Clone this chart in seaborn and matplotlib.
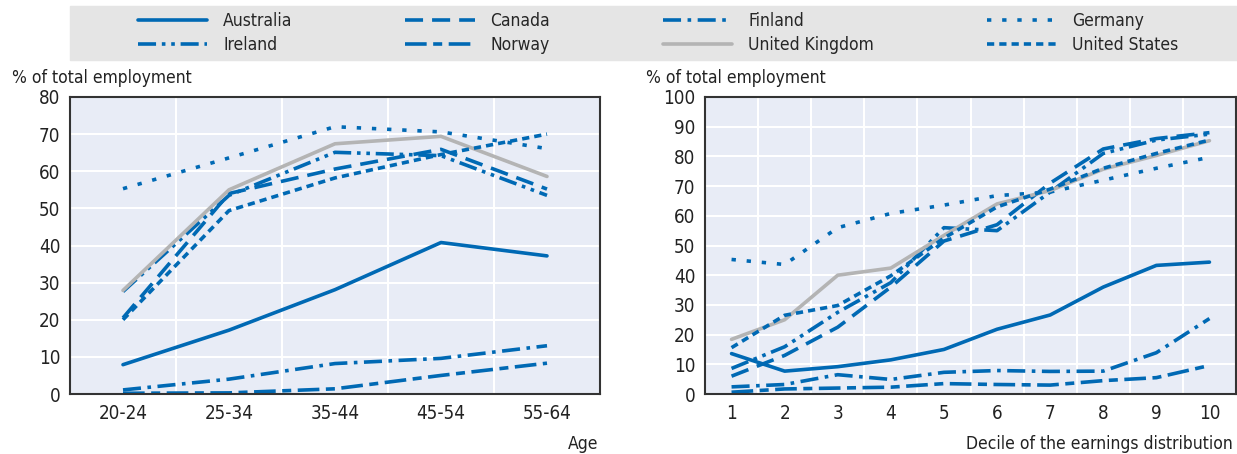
import numpy as np
import pandas as pd
import matplotlib
matplotlib.use("Agg")
import matplotlib.pyplot as plt
import seaborn as sns
from matplotlib.patches import Rectangle

countries = ["Australia", "Canada", "Finland", "Germany",
             "Ireland", "Norway", "United Kingdom", "United States"]

age_groups = ["20-24", "25-34", "35-44", "45-54", "55-64"]
by_age = {
    "Australia":      [7.9, 17.2, 28.1, 40.8, 37.2],
    "Canada":         [20.5, 54.0, 60.6, 65.9, 55.2],
    "Finland":        [1.1, 4.0, 8.2, 9.6, 13.0],
    "Germany":        [55.3, 63.6, 72.0, 70.6, 66.1],
    "Ireland":        [27.6, 53.5, 65.1, 64.2, 53.5],
    "Norway":         [0.2, 0.3, 1.4, 5.0, 8.3],
    "United Kingdom": [27.9, 55.0, 67.4, 69.4, 58.6],
    "United States":  [20.0, 49.4, 58.2, 64.5, 70.0],
}

deciles = [1, 2, 3, 4, 5, 6, 7, 8, 9, 10]
by_decile = {
    "Australia":      [13.6, 7.7, 9.2, 11.5, 15.0, 21.8, 26.6, 36.0, 43.3, 44.4],
    "Canada":         [6.0, 13.0, 22.5, 36.0, 51.5, 57.0, 71.0, 82.5, 86.0, 88.0],
    "Finland":        [2.4, 3.2, 6.5, 4.9, 7.3, 7.9, 7.6, 7.7, 13.9, 25.4],
    "Germany":        [45.3, 43.6, 56.0, 60.8, 63.6, 66.8, 68.0, 72.0, 76.0, 79.7],
    "Ireland":        [8.6, 15.9, 27.5, 37.5, 56.0, 55.0, 68.0, 81.0, 85.5, 87.5],
    "Norway":         [0.6, 1.7, 2.0, 2.3, 3.5, 3.2, 3.0, 4.5, 5.5, 9.6],
    "United Kingdom": [18.4, 25.0, 40.0, 42.4, 53.4, 64.0, 68.5, 75.7, 80.3, 85.3],
    "United States":  [15.6, 26.5, 29.8, 39.8, 52.5, 63.0, 69.0, 76.0, 81.0, 85.5],
}

blue = "#0069b4"
grey = "#b4b4b4"
colors = {c: blue for c in countries}
colors["United Kingdom"] = grey
styles = {
    "Australia": "-",
    "Canada": (0, (5, 2.5)),
    "Finland": (0, (5, 1.8, 1, 1.8)),
    "Germany": (0, (1.2, 3.0)),
    "Ireland": (0, (5, 1.6, 1, 1.6, 1, 1.6)),
    "Norway": (0, (6, 1.8, 2.5, 1.8)),
    "United Kingdom": "-",
    "United States": (0, (2, 1.4)),
}

sns.set_style("white")
plt.rcParams["font.family"] = ["Liberation Sans Narrow", "DejaVu Sans"]
plt.rcParams["font.stretch"] = "condensed"

fig = plt.figure(figsize=(12.37, 4.54), dpi=100)
W, H = 1237, 454
ax1 = fig.add_axes([70 / W, 1 - 394 / H, 530 / W, 297 / H])
ax2 = fig.add_axes([705 / W, 1 - 394 / H, 531 / W, 297 / H])

age_df = pd.DataFrame(by_age)
age_df["x"] = np.arange(len(age_groups))
dec_df = pd.DataFrame(by_decile)
dec_df["x"] = deciles

for ax, df in [(ax1, age_df), (ax2, dec_df)]:
    for c in countries:
        sns.lineplot(data=df, x="x", y=c, ax=ax, color=colors[c],
                     linestyle=styles[c], linewidth=2.6, label=c, legend=False)

def style_axes(ax, xmin, xmax, ymax, xticks, xticklabels):
    ax.set_facecolor("#e8ecf6")
    ax.set_xlim(xmin, xmax)
    ax.set_ylim(0, ymax)
    ax.set_xticks(xticks)
    ax.set_xticklabels(xticklabels)
    ax.set_xticks(np.arange(xmin + 1, xmax), minor=True)
    ax.set_yticks(np.arange(0, ymax + 1, 10))
    ax.grid(True, which="major", axis="y", color="white", linewidth=1.5)
    ax.grid(True, which="minor", axis="x", color="white", linewidth=1.5)
    ax.set_axisbelow(True)
    ax.tick_params(axis="both", which="major", length=0, labelsize=13.5,
                   pad=7, colors="#222222")
    ax.tick_params(axis="x", which="minor", direction="in", length=4,
                   width=1, color="#555555")
    for s in ax.spines.values():
        s.set_visible(True)
        s.set_color("#333333")
        s.set_linewidth(1.5)
    ax.set_xlabel("")
    ax.set_ylabel("")

style_axes(ax1, -0.5, 4.5, 80, np.arange(5), age_groups)
style_axes(ax2, 0.5, 10.5, 100, deciles, [str(d) for d in deciles])

fig.text(12 / W, 1 - 78 / H, "% of total employment", fontsize=12.5,
         va="center", ha="left", color="#222222")
fig.text(646 / W, 1 - 78 / H, "% of total employment", fontsize=12.5,
         va="center", ha="left", color="#222222")
fig.text(598 / W, 1 - 444 / H, "Age", fontsize=12.5,
         va="center", ha="right", color="#222222")
fig.text(1233 / W, 1 - 444 / H, "Decile of the earnings distribution",
         fontsize=12.5, va="center", ha="right", color="#222222")

# grey legend band
fig.patches.append(Rectangle((70 / W, 1 - 60 / H), (W - 70) / W, 54 / H,
                             transform=fig.transFigure, color="#e5e5e5",
                             zorder=0))
handles, labels = ax1.get_legend_handles_labels()
order = [0, 4, 1, 5, 2, 6, 3, 7]
fig.legend([handles[i] for i in order], [labels[i] for i in order],
           loc="center", bbox_to_anchor=(138 / W, 1 - 58 / H, 1040 / W, 50 / H),
           mode="expand", ncol=4, frameon=False, handlelength=4,
           fontsize=12.5, borderaxespad=0, borderpad=0, labelspacing=0.3,
           handletextpad=0.9)

fig.savefig("out.png", dpi=100)
